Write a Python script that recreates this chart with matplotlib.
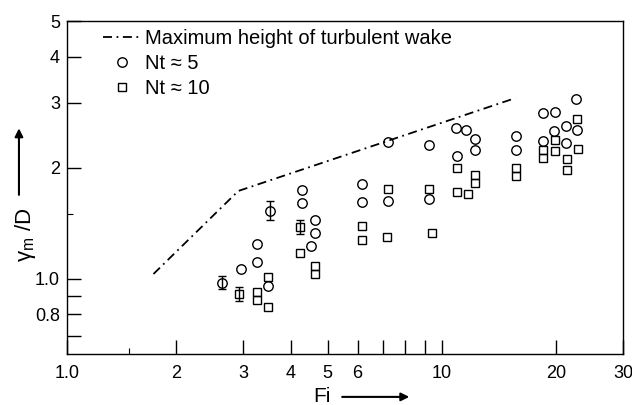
import matplotlib
matplotlib.use("Agg")
import matplotlib.pyplot as plt
from matplotlib.ticker import FixedLocator, NullFormatter

plt.rcParams['font.family'] = ['Liberation Sans', 'DejaVu Sans']

# -----------------------------
# DATA
# -----------------------------
# Nt ~ 5 (circles)
fi5 = [2.96, 3.26, 3.26, 3.48, 4.28, 4.28, 4.63, 4.63, 4.52,
       6.16, 6.16, 7.21, 7.21, 9.25, 9.25,
       10.9, 11.6, 12.2, 12.2, 10.95, 15.7, 15.7,
       18.4, 19.8, 22.5, 21.2, 22.7, 19.7, 18.4, 21.2]
gm5 = [1.065, 1.244, 1.112, 0.957, 1.74, 1.60, 1.445, 1.33, 1.23,
       1.81, 1.61, 2.35, 1.63, 2.31, 1.65,
       2.57, 2.53, 2.40, 2.24, 2.15, 2.44, 2.24,
       2.82, 2.84, 3.07, 2.60, 2.53, 2.52, 2.37, 2.34]
# circles with error bars
fi5_err = [2.64, 3.53]
gm5_err = [0.975, 1.53]
err5 = [0.04, 0.09]

# Nt ~ 10 (squares)
fi10 = [3.26, 3.26, 3.48, 3.48, 4.23, 4.63, 4.63,
        6.16, 6.16, 7.17, 7.21, 9.25, 9.41,
        10.95, 12.2, 12.2, 10.95, 11.7, 15.7, 15.7,
        22.7, 19.8, 18.4, 18.4, 19.8, 22.8, 21.3, 21.3]
gm10 = [0.922, 0.877, 1.012, 0.839, 1.176, 1.084, 1.03,
        1.39, 1.276, 1.30, 1.75, 1.75, 1.33,
        2.0, 1.91, 1.82, 1.72, 1.70, 2.0, 1.90,
        2.71, 2.38, 2.24, 2.13, 2.22, 2.25, 2.11, 1.97]
fi10_err = [2.92, 4.23]
gm10_err = [0.911, 1.38]
err10 = [0.04, 0.06]

# maximum height of turbulent wake
fi_wake = [1.74, 2.91, 15.6]
gm_wake = [1.03, 1.73, 3.09]

# long ticks (some unlabelled) and short ticks
xticks = [1.03, 2, 3, 4, 5, 6, 7, 8, 9, 10, 20, 30]
xticklabels = ['1.0', '2', '3', '4', '5', '6', '', '', '', '10', '20', '30']
xshort = [1.5]
yticks = [0.7, 0.8, 0.9, 1.0, 2, 3, 4, 5]
yticklabels = ['', '0.8', '', '1.0', '2', '3', '4', '5']
yshort = [1.5]

fig = plt.figure(figsize=(6.32, 4.05), dpi=100)
ax = fig.add_axes([0.106, 0.126, 0.880, 0.822])

ax.set_xscale('log')
ax.set_yscale('log')
ax.set_xlim(1.03, 30)
ax.set_ylim(0.625, 5)

ax.plot(fi_wake, gm_wake, color='black', lw=1.3, ls=(0, (5, 2.5, 1, 2.5)),
        label='Maximum height of turbulent wake')
ax.plot(fi5, gm5, 'o', ms=6.8, mfc='none', mec='black', mew=1.0,
        label='Nt \u2248 5')
ax.plot(fi10, gm10, 's', ms=5.2, mfc='none', mec='black', mew=1.0,
        label='Nt \u2248 10')
ax.errorbar(fi5_err, gm5_err, yerr=err5, fmt='o', ms=6.8, mfc='none',
            mec='black', mew=1.0, ecolor='black', elinewidth=1.0, capsize=3)
ax.errorbar(fi10_err, gm10_err, yerr=err10, fmt='s', ms=5.2, mfc='none',
            mec='black', mew=1.0, ecolor='black', elinewidth=1.0, capsize=3)

# ticks
ax.xaxis.set_major_locator(FixedLocator(xticks))
ax.set_xticklabels(xticklabels)
ax.xaxis.set_minor_locator(FixedLocator(xshort))
ax.xaxis.set_minor_formatter(NullFormatter())
ax.yaxis.set_major_locator(FixedLocator(yticks))
ax.set_yticklabels(yticklabels)
ax.yaxis.set_minor_locator(FixedLocator(yshort))
ax.yaxis.set_minor_formatter(NullFormatter())
ax.tick_params(which='major', direction='in', length=10, width=1, labelsize=13)
ax.tick_params(axis='x', which='major', pad=8)
ax.tick_params(axis='y', which='major', pad=5)
ax.tick_params(which='minor', direction='in', length=4, width=0.8)
for sp in ax.spines.values():
    sp.set_linewidth(1.0)

ax.legend(loc='upper left', bbox_to_anchor=(0.065, 0.975), frameon=False,
          fontsize=14.5, handlelength=1.85, handletextpad=0.25,
          labelspacing=0.28, borderpad=0, borderaxespad=0, numpoints=1)

# axis labels with arrows
fig.text(0.040, 0.42, '\u03b3$_\\mathregular{m}$ /D', rotation=90,
         ha='center', va='center', fontsize=16)
ax.annotate('', xy=(0.030, 0.69), xycoords='figure fraction',
            xytext=(0.030, 0.512), textcoords='figure fraction',
            arrowprops=dict(arrowstyle='-|>', lw=1.5, color='black',
                            mutation_scale=12))
fig.text(0.51, 0.02, 'Fi', ha='center', va='center', fontsize=15)
ax.annotate('', xy=(0.652, 0.02), xycoords='figure fraction',
            xytext=(0.537, 0.02), textcoords='figure fraction',
            arrowprops=dict(arrowstyle='-|>', lw=1.5, color='black',
                            mutation_scale=12))

fig.savefig('out.png', dpi=100)
